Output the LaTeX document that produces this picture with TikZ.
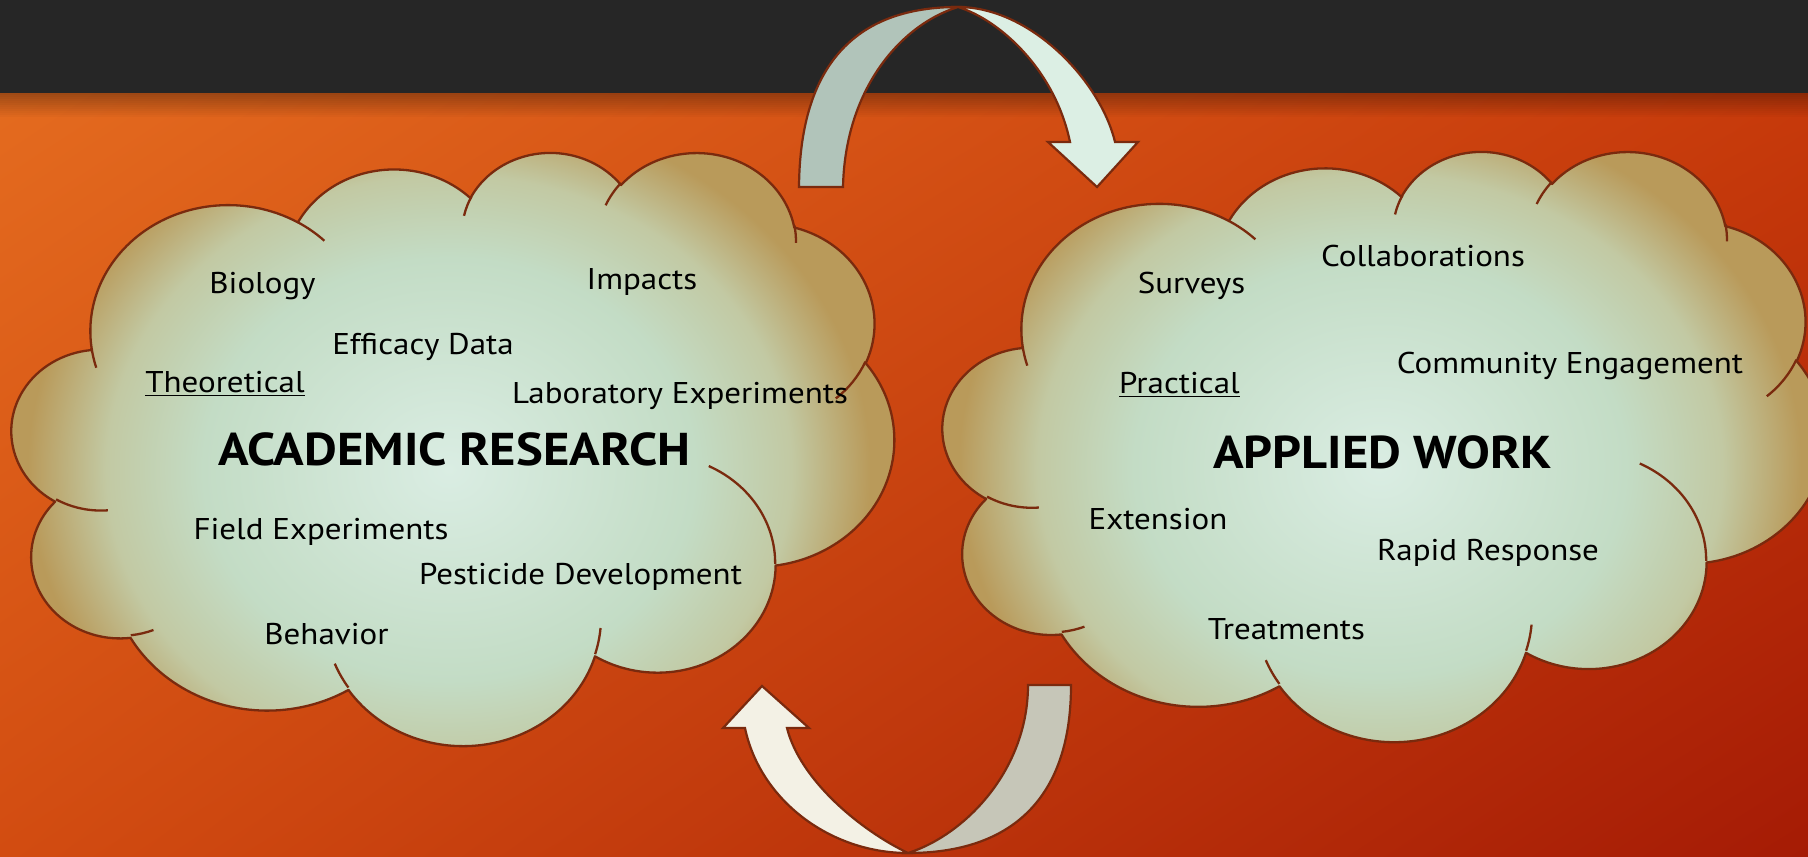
\documentclass[tikz,border=0pt]{standalone}
\usepackage{fontspec}
\setmainfont{PT Sans}[FakeStretch=1.1]
\usetikzlibrary{shadings}

\definecolor{bgUL}{HTML}{E46B1F}
\definecolor{bgUR}{HTML}{C73A0B}
\definecolor{bgLL}{HTML}{D24C11}
\definecolor{bgLR}{HTML}{A51B05}
\definecolor{barc}{HTML}{262626}
\definecolor{edgec}{HTML}{7A2A0E}
\definecolor{cmint}{HTML}{DAEDE3}
\definecolor{cgreen}{HTML}{C3DCC5}
\definecolor{cmid}{HTML}{C2C9A3}
\definecolor{ctan}{HTML}{B99A5A}
\colorlet{cmg}{cmint!50!cgreen}
\definecolor{arTL}{HTML}{B1C4BA}
\definecolor{arTR}{HTML}{DCEFE4}
\definecolor{arBL}{HTML}{F3F1E5}
\definecolor{arBR}{HTML}{C6C6B8}

\pgfdeclareradialshading{cloudsh}{\pgfpoint{0bp}{0bp}}{color(0bp)=(cmint); color(7bp)=(cmg); color(14bp)=(cgreen); color(19.5bp)=(cmid); color(24bp)=(ctan); color(50bp)=(ctan)}

\makeatletter
% geometric (OOXML) angles -> parametric angles
\newcommand\cldarc[5]{%
  \pgfmathsetmacro\cld@a{atan2((#2)*sin(#4),(#3)*cos(#4))}%
  \pgfmathsetmacro\cld@b{atan2((#2)*sin((#4)+(#5)),(#3)*cos((#4)+(#5)))}%
  \pgfmathsetmacro\cld@b{ifthenelse(\cld@b<\cld@a,\cld@b+360,\cld@b)}%
  \expandafter\xdef\csname cld#1s\endcsname{\cld@a}%
  \expandafter\xdef\csname cld#1e\endcsname{\cld@b}%
}
\makeatother

\cldarc{A}{67.53}{91.90}{-190.4875}{123.7805}
\cldarc{B}{53.33}{72.67}{-144.1024}{89.9452}
\cldarc{C}{43.65}{59.45}{-145.8079}{99.7230}
\cldarc{D}{48.57}{65.95}{-130.9861}{117.2417}
\cldarc{E}{53.33}{72.73}{-78.7089}{109.0269}
\cldarc{F}{67.75}{92.20}{-46.2673}{130.2690}
\cldarc{G}{57.85}{78.67}{0.6250}{114.0333}
\cldarc{H}{67.52}{92.15}{22.4516}{115.1726}
\cldarc{I}{77.20}{105.43}{66.2426}{75.7110}
\cldarc{J}{43.60}{59.18}{-274.9421}{146.7356}
\cldarc{K}{43.45}{59.45}{-246.8285}{152.5189}

\cldarc{a}{43.45}{59.45}{86.742}{26.4295}
\cldarc{b}{43.60}{59.18}{73.6105}{11.4475}
\cldarc{c}{67.52}{92.15}{137.6242}{14.0811}
\cldarc{d}{67.52}{92.15}{6.4533}{15.9984}
\cldarc{e}{57.85}{78.67}{-70.2924}{70.9174}
\cldarc{f}{53.33}{72.73}{30.3180}{27.7515}
\cldarc{g}{48.57}{65.95}{-13.7443}{14.8589}
\cldarc{h}{48.57}{65.95}{-149.1815}{18.1954}
\cldarc{i}{43.65}{59.45}{-163.4943}{17.6864}
\cldarc{j}{67.53}{91.90}{-66.7070}{12.3194}
\cldarc{k}{67.53}{91.90}{157.6544}{11.8539}

\newcommand\cloudP{(39pt,143.7pt)
 arc[x radius=67.53pt, y radius=91.90pt, start angle=\cldAs, end angle=\cldAe]
 arc[x radius=53.33pt, y radius=72.67pt, start angle=\cldBs, end angle=\cldBe]
 arc[x radius=43.65pt, y radius=59.45pt, start angle=\cldCs, end angle=\cldCe]
 arc[x radius=48.57pt, y radius=65.95pt, start angle=\cldDs, end angle=\cldDe]
 arc[x radius=53.33pt, y radius=72.73pt, start angle=\cldEs, end angle=\cldEe]
 arc[x radius=67.75pt, y radius=92.20pt, start angle=\cldFs, end angle=\cldFe]
 arc[x radius=57.85pt, y radius=78.67pt, start angle=\cldGs, end angle=\cldGe]
 arc[x radius=67.52pt, y radius=92.15pt, start angle=\cldHs, end angle=\cldHe]
 arc[x radius=77.20pt, y radius=105.43pt, start angle=\cldIs, end angle=\cldIe]
 arc[x radius=43.60pt, y radius=59.18pt, start angle=\cldJs, end angle=\cldJe]
 arc[x radius=43.45pt, y radius=59.45pt, start angle=\cldKs, end angle=\cldKe]
 -- cycle}

\newcommand\cloudL{
 (46.93pt,261.77pt) arc[x radius=43.45pt, y radius=59.45pt, start angle=\cldas, end angle=\cldae]
 (69.28pt,348.99pt) arc[x radius=43.60pt, y radius=59.18pt, start angle=\cldbs, end angle=\cldbe]
 (164.78pt,390.90pt) arc[x radius=67.52pt, y radius=92.15pt, start angle=\cldcs, end angle=\cldce]
 (288.27pt,347.51pt) arc[x radius=67.52pt, y radius=92.15pt, start angle=\cldds, end angle=\cldde]
 (341.29pt,229.54pt) arc[x radius=57.85pt, y radius=78.67pt, start angle=\cldes, end angle=\cldee]
 (417.98pt,153.54pt) arc[x radius=53.33pt, y radius=72.73pt, start angle=\cldfs, end angle=\cldfe]
 (383.24pt,54.26pt) arc[x radius=48.57pt, y radius=65.95pt, start angle=\cldgs, end angle=\cldge]
 (290.78pt,39.52pt) arc[x radius=48.57pt, y radius=65.95pt, start angle=\cldhs, end angle=\cldhe]
 (221.41pt,47.20pt) arc[x radius=43.65pt, y radius=59.45pt, start angle=\cldis, end angle=\cldie]
 (140.00pt,51.92pt) arc[x radius=67.53pt, y radius=91.90pt, start angle=\cldjs, end angle=\cldje]
 (41.27pt,157.89pt) arc[x radius=67.53pt, y radius=91.90pt, start angle=\cldks, end angle=\cldke]}

\tikzset{
  cloudline/.style={draw=edgec, line width=1.15pt, line join=round},
  arrowline/.style={draw=edgec, line width=1.1pt, line join=miter},
  txt/.style={font=\fontsize{15pt}{18pt}\selectfont, text=black, inner sep=0pt, anchor=base},
  ttl/.style={font=\fontsize{23pt}{27pt}\selectfont\bfseries, text=black, inner sep=0pt, anchor=base},
}

\begin{document}
\begin{tikzpicture}[x=0.5pt, y=-0.5pt]
\useasboundingbox (0,0) rectangle (1808,856);

% background
\shade[upper left=bgUL, upper right=bgUR, lower left=bgLL, lower right=bgLR] (0,93) rectangle (1808,856);
\foreach \i [evaluate=\i as \op using 0.3*(1-\i/12)] in {0,...,11}
  \fill[black, fill opacity=\op] (0,93+2*\i) rectangle (1808,95+2*\i);
\fill[barc] (0,0) rectangle (1808,93);

% left cloud
\begin{scope}[shift={(12,151)}, xscale=1.0208, yscale=-0.6863]
  \begin{scope}
    \clip \cloudP;
    \fill[ctan] (0pt,0pt) rectangle (432pt,432pt);
    \shade[shading=cloudsh] (214pt,232pt) ellipse [x radius=215pt, y radius=275pt];
  \end{scope}
  \draw[cloudline] \cloudP;
  \draw[cloudline] \cloudL;
\end{scope}

% right cloud
\begin{scope}[shift={(943,150)}, xscale=1.0208, yscale=-0.6829]
  \begin{scope}
    \clip \cloudP;
    \fill[ctan] (0pt,0pt) rectangle (432pt,432pt);
    \shade[shading=cloudsh] (214pt,232pt) ellipse [x radius=215pt, y radius=275pt];
  \end{scope}
  \draw[cloudline] \cloudP;
  \draw[cloudline] \cloudL;
\end{scope}

% top arrow
\coordinate (tapex) at (958,7);
\filldraw[arrowline, fill=arTL] (799,187) .. controls (800,60) and (860,7) .. (tapex)
  .. controls (900,25) and (845,90) .. (843,187) -- cycle;
\filldraw[arrowline, fill=arTR] (tapex) .. controls (1030,7) and (1100,80) .. (1115,142)
  -- (1138,142) -- (1097,187) -- (1048,142) -- (1070,142)
  .. controls (1055,70) and (1000,20) .. (tapex) -- cycle;

% bottom arrow
\coordinate (bapex) at (908,853);
\filldraw[arrowline, fill=arBR] (1028,685) -- (1071,685) .. controls (1071,800) and (1010,853) .. (bapex)
  .. controls (965,835) and (1028,770) .. (1028,685) -- cycle;
\filldraw[arrowline, fill=arBL] (745,728) .. controls (760,800) and (830,853) .. (bapex)
  .. controls (860,830) and (800,780) .. (787,728) -- (809,728) -- (762,686) -- (723,728) -- cycle;

% left cloud texts
\node[txt] (biology) at (262.5,293) {Biology};
\node[txt] (impacts) at (642,289) {Impacts};
\node[txt] (efficacy) at (423,354) {Efficacy Data};
\node[txt] (theoretical) at (225,392) {\underline{Theoretical}};
\node[txt] (laboratory) at (680,403) {Laboratory Experiments};
\node[ttl] (academic) at (454.5,465) {ACADEMIC RESEARCH};
\node[txt] (field) at (321,539) {Field Experiments};
\node[txt] (pesticide) at (580.5,584) {Pesticide Development};
\node[txt] (behavior) at (326.5,644) {Behavior};

% right cloud texts
\node[txt] (surveys) at (1191.5,293) {Surveys};
\node[txt] (collab) at (1423,266) {Collaborations};
\node[txt] (community) at (1570,373) {Community Engagement};
\node[txt] (practical) at (1179.5,393) {\underline{Practical}};
\node[ttl] (applied) at (1382.5,468) {APPLIED WORK};
\node[txt] (extension) at (1158,529) {Extension};
\node[txt] (rapid) at (1488,560) {Rapid Response};
\node[txt] (treatments) at (1286.5,639) {Treatments};
\end{tikzpicture}
\end{document}
